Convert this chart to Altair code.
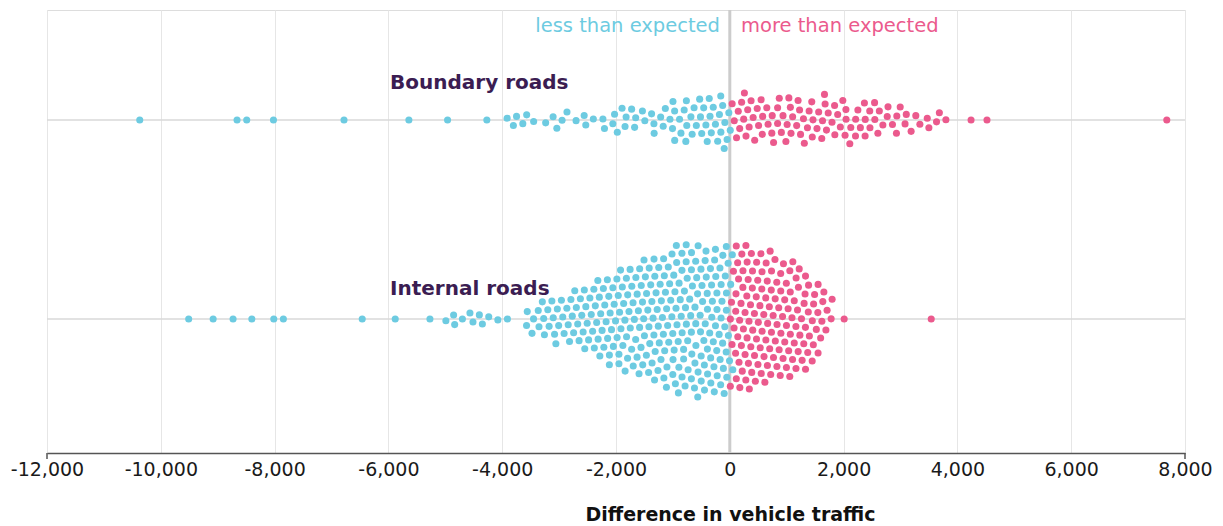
import numpy as np
import pandas as pd
import altair as alt

# ---------------- data ----------------
X_MIN, X_MAX = -12000, 8000
x_ticks = [-12000, -10000, -8000, -6000, -4000, -2000, 0, 2000, 4000, 6000, 8000]

# Boundary roads: individual dots
boundary_values = [
    -10370, -8660, -8490, -8020, -6780, -5640, -4960, -4270,
    -3910, -3800, -3750, -3640, -3570, -3450, -3230, -3110, -3030, -2950,
    -2870, -2700, -2560, -2530, -2400, -2230, -2180, -2070, -2010, -1960,
    -1910, -1850, -1800, -1740, -1680, -1640, -1520, -1470, -1360, -1330,
    -1300, -1190, -1170, -1130, -1050, -1020, -990, -920, -890, -880,
    -840, -770, -750, -740, -720, -640, -620, -590, -560, -510, -490,
    -450, -430, -380, -350, -340, -310, -280, -270, -220, -180, -170,
    -150, -120, -100, -90, -80, -40, -30, -20,
    200, 370, 540, 700, 870, 1040, 1200, 1370, 1540, 1700, 1880, 2040, 2200, 2370, 2530,
    120, 290, 460, 620, 790, 960, 1120, 1290, 1450, 1620, 1780, 1950, 2120, 2280,
    2450, 2610, 2770, 2930, 3100, 3270, 3510, 3680,
    40, 220, 390, 550, 720, 890, 1050, 1220, 1380, 1550, 1710, 1880, 2030, 2200,
    2370, 2530, 2690, 2850, 3010, 3170, 3340, 3630, 3790,
    20, 190, 360, 540, 760, 930, 1100, 1260, 1430, 1600, 1760, 1930, 2100, 2260,
    2430, 2600, 2770, 2920, 3080, 3470,
    130, 300, 460, 650, 820, 1010, 1180, 1340, 1500, 1670, 1840, 2000, 2350,
    90, 240,
    4240, 4520, 7680,
]

# Internal roads: isolated dots read one by one
internal_sparse = [
    -9510, -9080, -8730, -8400, -8010, -7850, -6460, -5880, -5270, -4980,
    -4860, -4830, -4700, -4570, -4510, -4400, -4350, -4240, -4080, -3910,
    2010, 3540,
]
# Internal roads: dense part, number of dots per 100-unit bin (bin centres)
internal_bin_centers = list(range(-3550, 1751, 100))
internal_bin_counts = [
    2, 2, 2, 3, 2, 3, 3, 3, 4, 4, 4, 5, 5, 5, 6, 6, 7, 7, 8, 8, 9, 9, 9, 10,
    10, 10, 11, 11, 11, 11, 12, 12, 11, 12, 11, 12,
    12, 12, 11, 11, 11, 11, 10, 10, 9, 9, 8, 7, 7, 6, 5, 4, 1, 0,
]

group_names = ["Boundary roads", "Internal roads"]
group_row = [333, 134]          # row centre, pixels above the plot bottom

BLUE = "#6dcbe1"
PINK = "#eb5a8d"
PURPLE = "#3b1d52"

# ---------------- beeswarm layout (force simulation) ----------------
PLOT_W, PLOT_H = 1138, 443
K = PLOT_W / (X_MAX - X_MIN)


def swarm(values, r=4.8, ticks=300, sx=1.0, sy=0.1, coll_iter=2, strength=0.7):
    tx = np.asarray(values, float) * K
    n = len(tx)
    i = np.arange(n)
    ang = i * np.pi * (3 - np.sqrt(5))
    rad = 1.5 * np.sqrt(0.5 + i)
    x = tx + 0.3 * rad * np.cos(ang)
    y = rad * np.sin(ang) * 0.3
    vx = np.zeros(n)
    vy = np.zeros(n)
    alpha = 1.0
    decay = 1 - 0.001 ** (1 / ticks)
    R = 2 * r
    for _ in range(ticks):
        alpha += (0 - alpha) * decay
        vx += (tx - x) * sx * alpha
        vy += (0 - y) * sy * alpha
        for _ in range(coll_iter):
            px = x + vx
            py = y + vy
            dx = px[:, None] - px[None, :]
            dy = py[:, None] - py[None, :]
            d2 = dx * dx + dy * dy
            np.fill_diagonal(d2, np.inf)
            m = d2 < R * R
            d = np.sqrt(np.where(m, d2, 1.0))
            d = np.maximum(d, 1e-6)
            l = np.where(m, (R - d) / d * strength * 0.5, 0.0)
            vx += (dx * l).sum(1)
            vy += (dy * l).sum(1)
        vx *= 0.6
        vy *= 0.6
        x += vx
        y += vy
    return x / K, y


internal_values = internal_sparse + list(np.repeat(internal_bin_centers, internal_bin_counts))
rows = []
for name, vals, center in zip(group_names, [boundary_values, internal_values], group_row):
    xs, ys = swarm(vals)
    for v, xv, yv in zip(vals, xs, ys):
        rows.append({"group": name, "value": float(v), "x": float(xv),
                     "y": float(center - yv), "side": "less" if v < 0 else "more"})
dots = pd.DataFrame(rows)

FONT = "DejaVu Sans"
xscale = alt.Scale(domain=[X_MIN, X_MAX], nice=False, zero=False)
yscale = alt.Scale(domain=[0, PLOT_H], nice=False, zero=False)
xaxis = alt.Axis(
    values=x_ticks, grid=True, gridColor="#e6e6e6", gridWidth=1,
    ticks=False, domainColor="#555555", domainWidth=1.5,
    labelFont=FONT, labelFontSize=19, labelColor="#1a1a1a", labelPadding=7,
    labelFlush=False, labelOverlap=False,
    labelExpr="replace(format(datum.value, ','), '\u2212', '-')",
    title="Difference in vehicle traffic", titleFont=FONT, titleFontSize=19,
    titleFontWeight="bold", titleColor="#111111", titleX=683, titleY=67,
    titleBaseline="alphabetic", titleAnchor="middle", titleAlign="center")

points = alt.Chart(dots).mark_circle(size=50, opacity=1).encode(
    x=alt.X("x:Q", scale=xscale, axis=xaxis),
    y=alt.Y("y:Q", scale=yscale, axis=None),
    color=alt.Color("side:N", scale=alt.Scale(domain=["less", "more"], range=[BLUE, PINK]),
                    legend=None),
)

row_lines = alt.Chart(pd.DataFrame({"y": group_row})).mark_rule(
    color="#d9d9d9", strokeWidth=1.5).encode(y=alt.Y("y:Q", scale=yscale, axis=None))

zero_line = alt.Chart(pd.DataFrame({"x": [0]})).mark_rule(
    color="#cccccc", strokeWidth=3).encode(x=alt.X("x:Q", scale=xscale, axis=xaxis))

end_ticks = alt.Chart(pd.DataFrame({"x": [X_MIN, X_MAX]})).mark_rule(
    color="#555555", strokeWidth=1.5).encode(
    x=alt.X("x:Q", scale=xscale, axis=xaxis), y=alt.value(PLOT_H), y2=alt.value(PLOT_H + 6))

def text_layer(txt, color, size, weight, align, xpx, ypx):
    return alt.Chart(pd.DataFrame({"t": [txt]})).mark_text(
        font=FONT, fontSize=size, fontWeight=weight, color=color, align=align,
        baseline="alphabetic").encode(text="t:N", x=alt.value(xpx), y=alt.value(ypx))

less_txt = text_layer("less than expected", BLUE, 19.5, "normal", "right", 673, 21.5)
more_txt = text_layer("more than expected", PINK, 19.5, "normal", "left", 694, 21.5)
lab_b = text_layer(group_names[0], PURPLE, 20, "bold", "left", 343, 78.7)
lab_i = text_layer(group_names[1], PURPLE, 20, "bold", "left", 343, 285)

chart = alt.layer(row_lines, zero_line, end_ticks, points, less_txt, more_txt, lab_b, lab_i).properties(
    width=PLOT_W, height=PLOT_H,
    autosize=alt.AutoSizeParams(type="none"),
    padding={"left": 39, "top": 2, "right": 30, "bottom": 72},
).configure_view(strokeWidth=0).configure(background="white")

chart.save("out.html", embed_options={"renderer": "svg", "actions": False})
